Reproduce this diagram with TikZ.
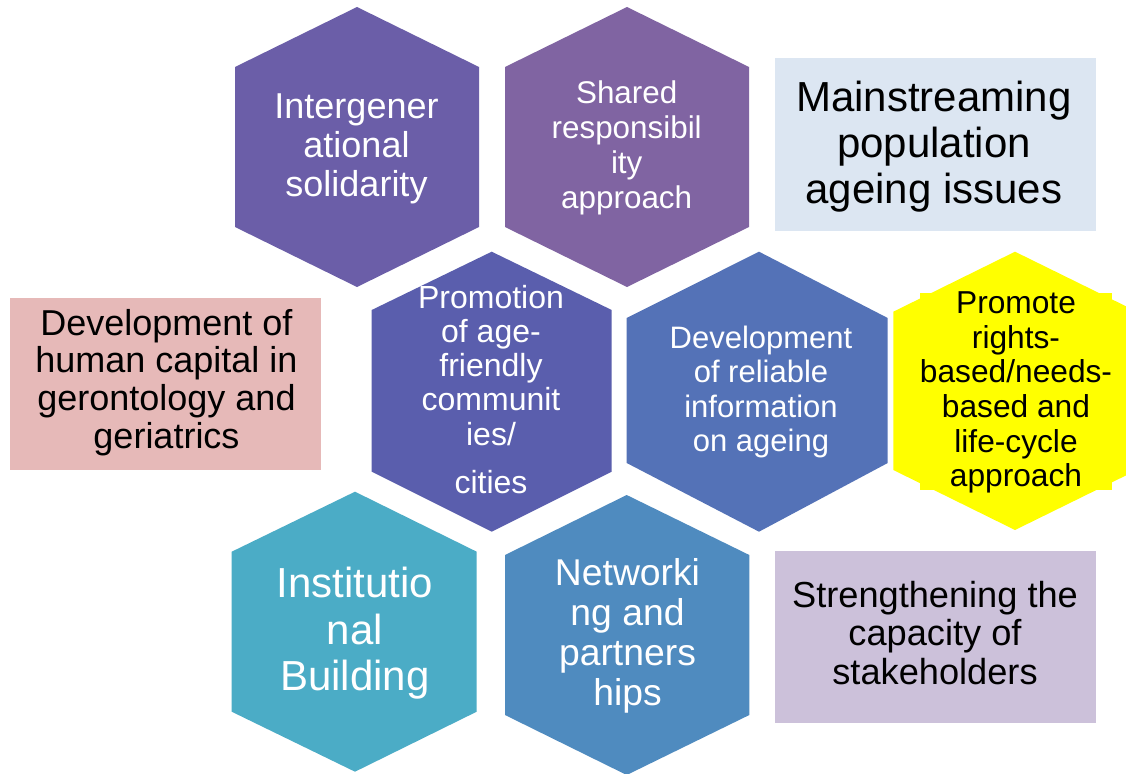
\documentclass[tikz,border=0pt]{standalone}
\usepackage{fontspec}
\setmainfont{Liberation Sans}
\definecolor{hexA}{HTML}{6B5EA8}
\definecolor{hexB}{HTML}{8064A2}
\definecolor{hexC}{HTML}{5A5EAD}
\definecolor{hexD}{HTML}{5472B7}
\definecolor{hexE}{HTML}{FFFF00}
\definecolor{hexF}{HTML}{4BACC6}
\definecolor{hexG}{HTML}{4F8BBF}
\definecolor{boxA}{HTML}{DCE6F2}
\definecolor{boxB}{HTML}{E6B9B8}
\definecolor{boxC}{HTML}{CCC1DA}
\newcommand{\mlines}[3]{{\fontsize{#1}{#2}\selectfont\begin{tabular}[t]{@{}c@{}}#3\end{tabular}}}
\tikzset{
  wtxt/.style={inner sep=0pt, anchor=base, text=white},
  btxt/.style={inner sep=0pt, anchor=base, text=black}
}
\begin{document}
\begin{tikzpicture}[x=1pt,y=-1pt]
\useasboundingbox (0,0) rectangle (1126,773);
\clip (0,0) rectangle (1126,773);
\fill[white] (0,0) rectangle (1126,773);
% hexagons
\fill[hexA] (357,7) -- (479,67) -- (479,227) -- (357,287) -- (235,227) -- (235,67) -- cycle;
\fill[hexB] (627,7) -- (749,67) -- (749,227) -- (627,287) -- (505,227) -- (505,67) -- cycle;
\fill[hexC] (491.7,251.7) -- (611.7,310) -- (611.7,471.7) -- (491.7,531.7) -- (371.7,471.7) -- (371.7,310) -- cycle;
\fill[hexD] (759,251.7) -- (887.7,318) -- (887.7,463) -- (759,531.7) -- (626.7,463) -- (626.7,318) -- cycle;
\fill[hexE] (1015,251.7) -- (1137,311.7) -- (1137,470) -- (1015,530) -- (893.3,470) -- (893.3,311.7) -- cycle;
\fill[hexE] (920,293.3) rectangle (1112,490);
\fill[hexF] (355,491.7) -- (476.7,551.7) -- (476.7,711.7) -- (355,771.7) -- (231.7,711.7) -- (231.7,551.7) -- cycle;
\fill[hexG] (626.7,495) -- (749.3,555) -- (749.3,715) -- (626.7,775) -- (505,715) -- (505,555) -- cycle;
% boxes
\fill[boxA] (775,58.3) rectangle (1096,230.7);
\fill[boxB] (10,298.3) rectangle (320.7,470);
\fill[boxC] (775,551) rectangle (1096,723.3);
% texts
\node[wtxt] (inter) at (356.5,118.3) {\mlines{36}{39.2}{Intergener\\ational\\solidarity}};
\node[wtxt] (shared) at (626.7,103.5) {\mlines{31.4}{35}{Shared\\responsibil\\ity\\approach}};
\node[wtxt] (promo) at (491,308.3) {\mlines{32}{34.2}{Promotion\\of age-\\friendly\\communit\\ies/\\[14pt]cities}};
\node[wtxt] (info) at (761,348.3) {\mlines{31}{34.5}{Development\\of reliable\\information\\on ageing}};
\node[btxt] (rights) at (1016,313.3) {\mlines{31.7}{34.7}{Promote\\rights-\\based/needs-\\based and\\life-cycle\\approach}};
\node[wtxt] (inst) at (355,597.5) {\mlines{42}{46.7}{Institutio\\nal\\Building}};
\node[wtxt] (net) at (627.5,585) {\mlines{37.3}{40}{Networki\\ng and\\partners\\hips}};
\node[btxt] (main) at (934,111.3) {\mlines{42}{46}{Mainstreaming\\population\\ageing issues}};
\node[btxt] (human) at (166.5,335) {\mlines{36}{37.8}{Development of\\human capital in\\gerontology and\\geriatrics}};
\node[btxt] (strength) at (935,607) {\mlines{36.2}{38.5}{Strengthening the\\capacity of\\stakeholders}};
\end{tikzpicture}
\end{document}
